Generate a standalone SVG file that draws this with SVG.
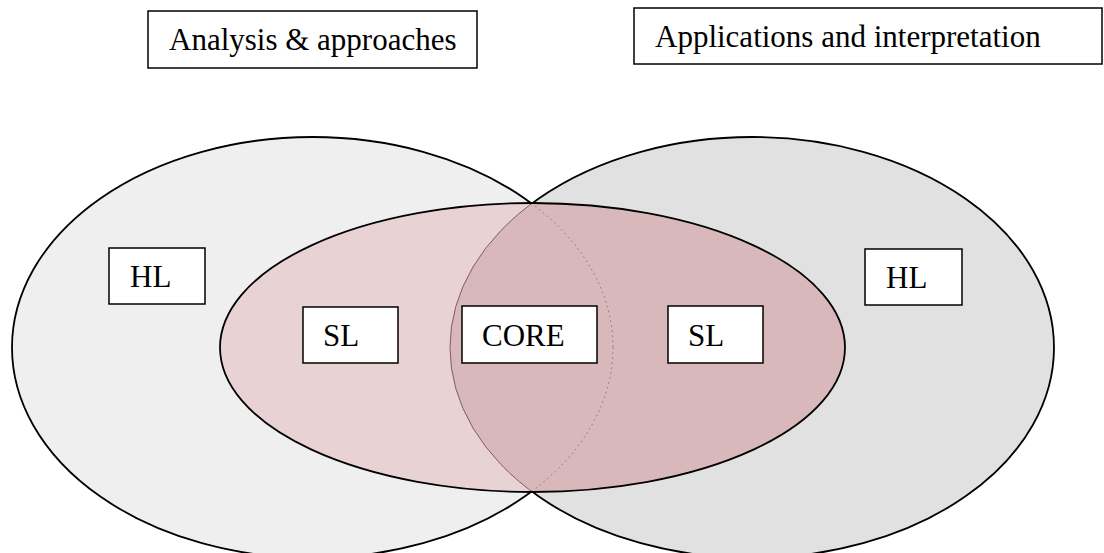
<svg xmlns="http://www.w3.org/2000/svg" width="1104" height="553" viewBox="0 0 1104 553">
  <style>
    .box { fill: #ffffff; stroke: #000000; stroke-width: 1.5; }
    .lbl { font-family: "Liberation Serif", "Times New Roman", serif; font-size: 31px; fill: #000000; }
    .outline { fill: none; stroke: #000000; stroke-width: 1.8; }
  </style>
  <defs>
    <clipPath id="clipRight">
      <ellipse cx="752" cy="347.5" rx="302" ry="210.5"/>
    </clipPath>
    <clipPath id="clipCentral">
      <ellipse cx="532.5" cy="347.5" rx="312.5" ry="144.5"/>
    </clipPath>
  </defs>
  <rect width="1104" height="553" fill="#ffffff"/>

  <g id="ellipses">
    <ellipse id="left-ellipse" cx="312.5" cy="347.5" rx="300.5" ry="210.5" fill="#efefef" stroke="#000" stroke-width="1.8"/>
    <ellipse id="right-ellipse" cx="752" cy="347.5" rx="302" ry="210.5" fill="#e1e1e1" stroke="#000" stroke-width="1.8"/>
    <ellipse id="central-ellipse" cx="532.5" cy="347.5" rx="312.5" ry="144.5" fill="#e9d2d4"/>
    <ellipse cx="532.5" cy="347.5" rx="312.5" ry="144.5" fill="#d9b8bc" clip-path="url(#clipRight)"/>
    <g clip-path="url(#clipCentral)">
      <ellipse cx="752" cy="347.5" rx="302" ry="210.5" fill="none" stroke="#7d5c62" stroke-width="1"/>
      <ellipse cx="312.5" cy="347.5" rx="300.5" ry="210.5" fill="none" stroke="#8a6a70" stroke-width="1" stroke-dasharray="1.5 3.5"/>
    </g>
    <ellipse class="outline" cx="532.5" cy="347.5" rx="312.5" ry="144.5"/>
  </g>

  <g id="connectors"/>

  <g id="title-analysis">
    <rect class="box" x="148" y="11" width="329" height="57"/>
    <text class="lbl" x="169" y="50">Analysis &amp; approaches</text>
  </g>
  <g id="title-applications">
    <rect class="box" x="634" y="8" width="468" height="56"/>
    <text class="lbl" x="655" y="47">Applications and interpretation</text>
  </g>
  <g id="hl-left">
    <rect class="box" x="109" y="248" width="96" height="56"/>
    <text class="lbl" x="130" y="287">HL</text>
  </g>
  <g id="sl-left">
    <rect class="box" x="303" y="307" width="95" height="56"/>
    <text class="lbl" x="323" y="346">SL</text>
  </g>
  <g id="core">
    <rect class="box" x="462" y="306" width="135" height="57"/>
    <text class="lbl" x="482" y="346">CORE</text>
  </g>
  <g id="sl-right">
    <rect class="box" x="668" y="306" width="95" height="57"/>
    <text class="lbl" x="688" y="346">SL</text>
  </g>
  <g id="hl-right">
    <rect class="box" x="865" y="249" width="97" height="56"/>
    <text class="lbl" x="886" y="288">HL</text>
  </g>
</svg>
